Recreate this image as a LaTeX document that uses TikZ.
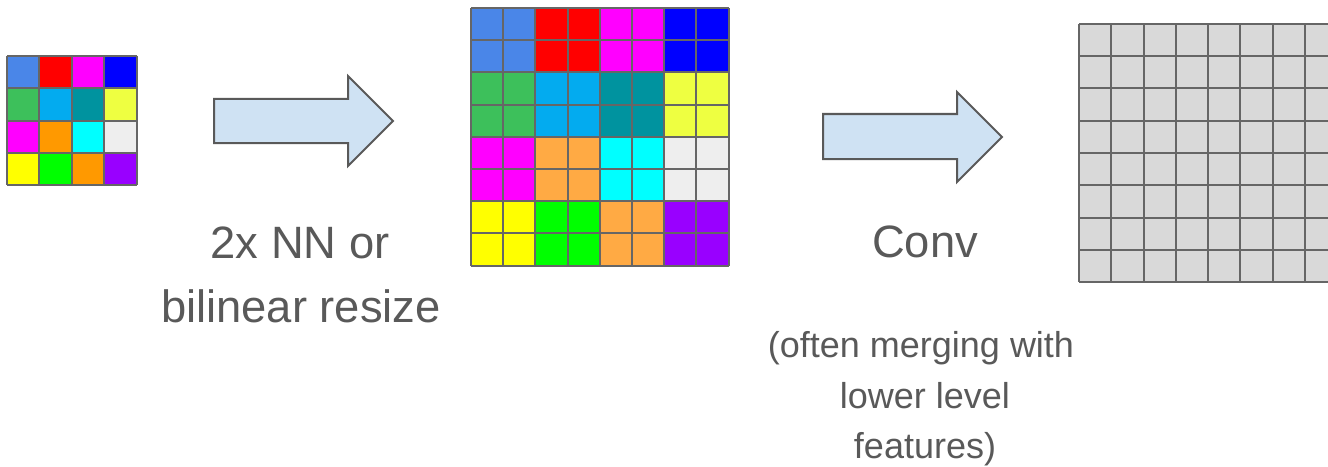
\documentclass[tikz,border=0pt]{standalone}
\usepackage{fontspec}
\setmainfont{Liberation Sans}
\definecolor{gridgray}{HTML}{666666}
\definecolor{txtgray}{HTML}{595959}
\definecolor{arrowfill}{HTML}{CFE2F3}
\definecolor{convgray}{HTML}{D9D9D9}
\definecolor{cA}{HTML}{4A86E8}
\definecolor{cB}{HTML}{FF0000}
\definecolor{cC}{HTML}{FF00FF}
\definecolor{cD}{HTML}{0000FF}
\definecolor{cE}{HTML}{3DC05B}
\definecolor{cF}{HTML}{03ABEF}
\definecolor{cG}{HTML}{00939F}
\definecolor{cH}{HTML}{EEFF41}
\definecolor{cI}{HTML}{FF00FF}
\definecolor{cJ}{HTML}{FF9900}
\definecolor{cJJ}{HTML}{FFAA44}
\definecolor{cK}{HTML}{00FFFF}
\definecolor{cL}{HTML}{EEEEEE}
\definecolor{cM}{HTML}{FFFF00}
\definecolor{cN}{HTML}{00FF00}
\definecolor{cO}{HTML}{FF9900}
\definecolor{cOO}{HTML}{FFAA44}
\definecolor{cP}{HTML}{9900FF}
\begin{document}
\begin{tikzpicture}[x=0.75pt,y=-0.75pt,
  gridline/.style={draw=gridgray,line width=1.5pt},
  blockarrow/.style={draw=txtgray,fill=arrowfill,line width=1.5pt,line join=miter},
  bigtext/.style={text=txtgray,font=\fontsize{34}{40}\selectfont,anchor=base,inner sep=0pt},
  smalltext/.style={text=txtgray,font=\fontsize{27}{32}\selectfont,anchor=base,inner sep=0pt}]
\useasboundingbox (0,0) rectangle (1328,467);
\clip (0,0) rectangle (1328,467);
% small input grid 4x4
\foreach \c [count=\i from 0] in {cA,cB,cC,cD,cE,cF,cG,cH,cI,cJ,cK,cL,cM,cN,cO,cP}{
  \pgfmathtruncatemacro\col{mod(\i,4)}
  \pgfmathtruncatemacro\row{div(\i,4)}
  \fill[\c] (7+\col*32.4,56+\row*32.3) rectangle ++(32.4,32.3);
}
\foreach \k in {0,...,4}{
  \draw[gridline] (7+\k*32.4,56) -- (7+\k*32.4,185.2);
  \draw[gridline] (7,56+\k*32.3) -- (136.6,56+\k*32.3);
}
\coordinate (small) at (72,120);
% big upsampled grid 8x8
\foreach \c [count=\i from 0] in {cA,cB,cC,cD,cE,cF,cG,cH,cI,cJJ,cK,cL,cM,cN,cOO,cP}{
  \pgfmathtruncatemacro\col{mod(\i,4)}
  \pgfmathtruncatemacro\row{div(\i,4)}
  \fill[\c] (471+\col*64.4,8+\row*64.4) rectangle ++(64.4,64.4);
}
\foreach \k in {0,...,8}{
  \draw[gridline] (471+\k*32.2,8) -- (471+\k*32.2,265.6);
  \draw[gridline] (471,8+\k*32.2) -- (728.6,8+\k*32.2);
}
% output grid 8x8 (cut at right edge)
\fill[convgray] (1079,24) rectangle (1337,282);
\foreach \k in {0,...,8}{
  \draw[gridline] (1079+\k*32.25,24) -- (1079+\k*32.25,282);
  \draw[gridline] (1079,24+\k*32.25) -- (1337,24+\k*32.25);
}
% block arrows
\draw[blockarrow] (214,99) -- (348,99) -- (348,76) -- (393,121) -- (348,166) -- (348,143) -- (214,143) -- cycle;
\draw[blockarrow] (823,114) -- (957,114) -- (957,92) -- (1002,137) -- (957,182) -- (957,159) -- (823,159) -- cycle;
% labels
\node[bigtext] (t1) at (300,258) {2x NN or};
\node[bigtext] (t2) at (301,322) {bilinear resize};
\node[bigtext] (t3) at (925,257) {Conv};
\node[smalltext] (t4) at (921,357) {(often merging with};
\node[smalltext] (t5) at (925,408) {lower level};
\node[smalltext] (t6) at (925,458) {features)};
\end{tikzpicture}
\end{document}
